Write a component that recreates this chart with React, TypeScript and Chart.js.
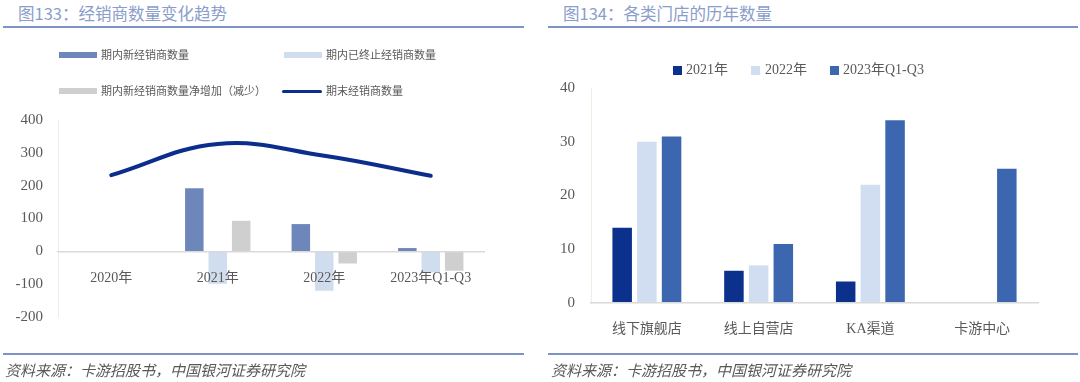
import React, { useEffect, useRef } from "react";
import { Chart, registerables } from "chart.js";

Chart.register(...registerables);

// ---------- Left chart data (图133) ----------
const leftCategories = ["2020年", "2021年", "2022年", "2023年Q1-Q3"];
const newDealers = [null, 192, 83, 10];
const terminatedDealers = [null, -99, -120, -64];
const netChange = [null, 93, -37, -59];
const endDealers = [232, 327, 291, 230];
const leftSeriesNames = [
  "期内新经销商数量",
  "期内已终止经销商数量",
  "期内新经销商数量净增加（减少）",
  "期末经销商数量",
];

// ---------- Right chart data (图134) ----------
const rightCategories = ["线下旗舰店", "线上自营店", "KA渠道", "卡游中心"];
const stores2021 = [14, 6, 4, null];
const stores2022 = [30, 7, 22, null];
const stores2023 = [31, 11, 34, 25];
const rightSeriesNames = ["2021年", "2022年", "2023年Q1-Q3"];

const leftColors = ["#6e87ba", "#d0ddef", "#cfcfcf", "#0b2d8b"];
const rightColors = ["#0c318d", "#d1ddf0", "#3c66b0"];

const FONT = "'Liberation Serif', 'Noto Sans CJK SC', serif";
const CJK = "'Noto Sans CJK SC', sans-serif";
const TEXT = "#595959";

function LeftChart() {
  const ref = useRef<HTMLCanvasElement | null>(null);
  useEffect(() => {
    if (!ref.current) return;
    const chart = new Chart(ref.current, {
      type: "bar",
      data: {
        labels: leftCategories,
        datasets: [
          { label: leftSeriesNames[0], data: newDealers as any, backgroundColor: leftColors[0], order: 1 },
          { label: leftSeriesNames[1], data: terminatedDealers as any, backgroundColor: leftColors[1], order: 1 },
          { label: leftSeriesNames[2], data: netChange as any, backgroundColor: leftColors[2], order: 1 },
          {
            type: "line" as any,
            label: leftSeriesNames[3],
            data: endDealers,
            borderColor: leftColors[3],
            backgroundColor: leftColors[3],
            borderWidth: 4,
            tension: 0.4,
            pointRadius: 0,
            borderCapStyle: "round",
            order: 0,
          } as any,
        ],
      },
      options: {
        animation: false,
        responsive: false,
        maintainAspectRatio: false,
        layout: { padding: { top: 120, bottom: 65, left: 0, right: 56 } },
        plugins: { legend: { display: false }, tooltip: { enabled: false } },
        datasets: { bar: { categoryPercentage: 0.66, barPercentage: 0.79 } },
        scales: {
          x: {
            position: { y: 0 } as any,
            grid: { display: false, drawTicks: false },
            border: { color: "#d9d9d9", width: 1.5, z: 1 },
            ticks: { z: 2, padding: 19, color: TEXT, font: { family: FONT, size: 14 } },
          },
          y: {
            min: -200,
            max: 400,
            ticks: { stepSize: 100, padding: 15, color: TEXT, font: { family: FONT, size: 15 } },
            grid: { display: false, drawTicks: false },
            border: { color: "#efefe3", width: 1 },
            afterFit: (s: any) => {
              s.width = 58;
            },
          },
        },
      } as any,
    });
    return () => chart.destroy();
  }, []);
  return <canvas ref={ref} width={540} height={382} style={{ position: "absolute", left: 0, top: 0 }} />;
}

function RightChart() {
  const ref = useRef<HTMLCanvasElement | null>(null);
  useEffect(() => {
    if (!ref.current) return;
    const chart = new Chart(ref.current, {
      type: "bar",
      data: {
        labels: rightCategories,
        datasets: [
          { label: rightSeriesNames[0], data: stores2021 as any, backgroundColor: rightColors[0] },
          { label: rightSeriesNames[1], data: stores2022 as any, backgroundColor: rightColors[1] },
          { label: rightSeriesNames[2], data: stores2023 as any, backgroundColor: rightColors[2] },
        ],
      },
      options: {
        animation: false,
        responsive: false,
        maintainAspectRatio: false,
        layout: { padding: { top: 88, bottom: 79, left: 0, right: 42 } },
        plugins: { legend: { display: false }, tooltip: { enabled: false } },
        datasets: { bar: { categoryPercentage: 0.663, barPercentage: 0.79 } },
        scales: {
          x: {
            position: { y: 0 } as any,
            grid: { display: false, drawTicks: false },
            border: { color: "#d9d9d9", width: 1.5, z: 1 },
            ticks: { z: 2, padding: 18, color: TEXT, font: { family: FONT, size: 14 } },
          },
          y: {
            min: 0,
            max: 40,
            ticks: { stepSize: 10, padding: 16, color: TEXT, font: { family: FONT, size: 15 } },
            grid: { display: false, drawTicks: false },
            border: { color: "#efefe3", width: 1 },
            afterFit: (s: any) => {
              s.width = 51;
            },
          },
        },
      } as any,
    });
    return () => chart.destroy();
  }, []);
  return <canvas ref={ref} width={540} height={382} style={{ position: "absolute", left: 540, top: 0 }} />;
}

const abs = (o: React.CSSProperties): React.CSSProperties => ({ position: "absolute", ...o });

export default function App() {
  const titleStyle: React.CSSProperties = {
    fontFamily: CJK,
    fontSize: 16.5,
    color: "#8a9dcb",
    lineHeight: "20px",
    whiteSpace: "nowrap",
  };
  const sourceStyle: React.CSSProperties = {
    fontFamily: CJK,
    fontSize: 15,
    fontStyle: "italic",
    color: TEXT,
    lineHeight: "18px",
    whiteSpace: "nowrap",
  };
  const legText: React.CSSProperties = {
    fontFamily: FONT,
    fontSize: 11,
    color: TEXT,
    lineHeight: "14px",
    whiteSpace: "nowrap",
  };
  const legText2: React.CSSProperties = {
    fontFamily: FONT,
    fontSize: 14,
    color: TEXT,
    lineHeight: "16px",
    whiteSpace: "nowrap",
  };
  return (
    <div style={{ position: "absolute", left: 0, top: 0, width: 1080, height: 382, background: "#fff", overflow: "hidden" }}>
      {/* titles */}
      <div style={abs({ left: 18, top: 3, ...titleStyle })}>图133：经销商数量变化趋势</div>
      <div style={abs({ left: 563, top: 3, ...titleStyle })}>图134：各类门店的历年数量</div>
      <div style={abs({ left: 3, top: 26, width: 521, height: 2, background: "#7d93c6" })} />
      <div style={abs({ left: 548, top: 26, width: 530, height: 2, background: "#7d93c6" })} />

      <LeftChart />
      <RightChart />

      {/* left legend */}
      <div style={abs({ left: 59, top: 52, width: 38, height: 6, background: leftColors[0] })} />
      <div style={abs({ left: 101, top: 48, ...legText })}>{leftSeriesNames[0]}</div>
      <div style={abs({ left: 284, top: 52, width: 38, height: 6, background: leftColors[1] })} />
      <div style={abs({ left: 326, top: 48, ...legText })}>{leftSeriesNames[1]}</div>
      <div style={abs({ left: 59, top: 88, width: 38, height: 6, background: leftColors[2] })} />
      <div style={abs({ left: 101, top: 84, ...legText })}>{leftSeriesNames[2]}</div>
      <div style={abs({ left: 282, top: 89.5, width: 40, height: 3, borderRadius: 2, background: leftColors[3] })} />
      <div style={abs({ left: 326, top: 84, ...legText })}>{leftSeriesNames[3]}</div>

      {/* right legend */}
      <div style={abs({ left: 673, top: 66, width: 9, height: 9, background: rightColors[0] })} />
      <div style={abs({ left: 686, top: 62, ...legText2 })}>{rightSeriesNames[0]}</div>
      <div style={abs({ left: 751, top: 66, width: 9, height: 9, background: rightColors[1] })} />
      <div style={abs({ left: 765, top: 62, ...legText2 })}>{rightSeriesNames[1]}</div>
      <div style={abs({ left: 830, top: 66, width: 9, height: 9, background: rightColors[2] })} />
      <div style={abs({ left: 843, top: 62, ...legText2 })}>{rightSeriesNames[2]}</div>

      {/* bottom lines & sources */}
      <div style={abs({ left: 3, top: 353, width: 521, height: 2, background: "#7d93c6" })} />
      <div style={abs({ left: 548, top: 353, width: 530, height: 2, background: "#7d93c6" })} />
      <div style={abs({ left: 5, top: 361, ...sourceStyle })}>资料来源：卡游招股书，中国银河证券研究院</div>
      <div style={abs({ left: 551, top: 361, ...sourceStyle })}>资料来源：卡游招股书，中国银河证券研究院</div>
    </div>
  );
}
